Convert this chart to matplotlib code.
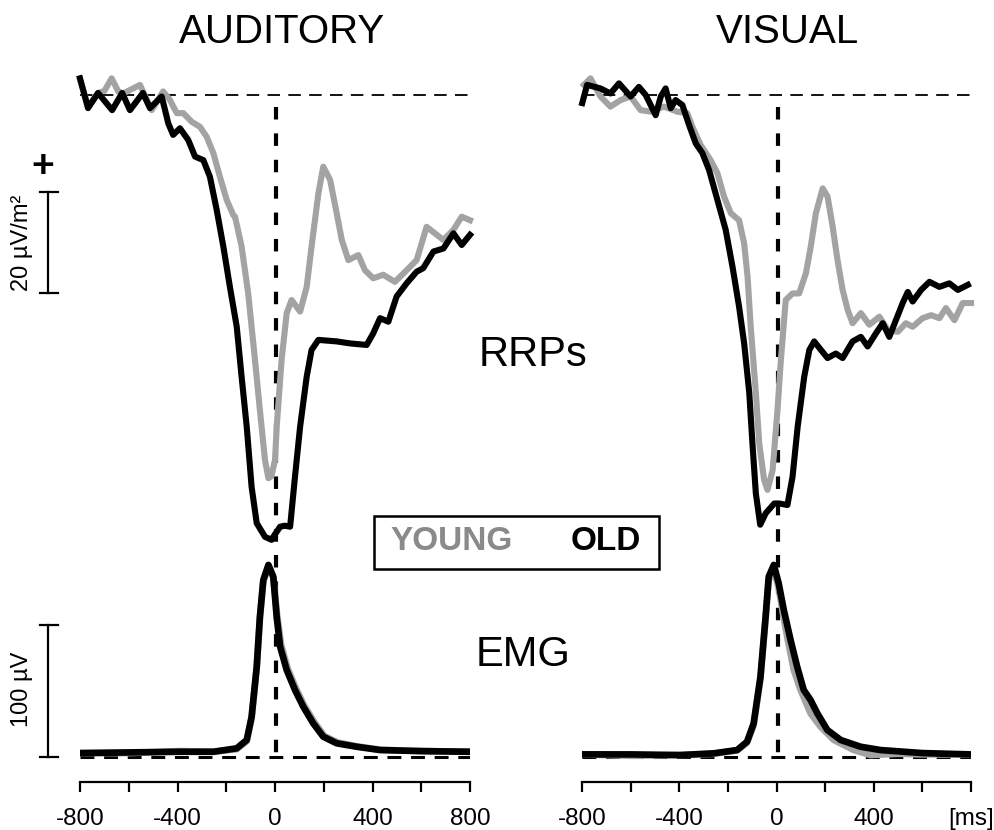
import matplotlib
matplotlib.use("Agg")
import matplotlib.pyplot as plt
from matplotlib.patches import Rectangle

plt.rcParams["font.family"] = ["Liberation Sans", "DejaVu Sans"]
plt.rcParams["lines.scale_dashes"] = False

# ---- data (ms, uV/m2 for RRPs, uV for EMG) ----
# auditory RRPs
aud_old_t = [-800, -767, -726, -668, -627, -595, -542, -513, -465, -451, -438, -418, -390, -356,
             -328, -294, -267, -239, -212, -185, -157, -137, -116, -96, -75, -41, -14, -7, 21, 40,
             62, 82, 103, 130, 150, 178, 253, 308, 376, 403, 431, 465, 499, 540, 581, 608, 650,
             691, 732, 766, 800]
aud_old_v = [3.3, -2.6, 0.4, -3.0, 0.4, -3.0, 0.4, -2.6, -0.3, -3.0, -5.6, -7.9, -6.6, -8.9,
             -12.2, -12.9, -16.2, -22.8, -30.0, -38.0, -45.9, -55.8, -65.7, -77.6, -84.8, -87.5,
             -88.1, -87.5, -85.5, -85.3, -85.5, -75.6, -65.7, -55.8, -50.5, -48.5, -48.8, -49.2,
             -49.5, -47.2, -44.2, -44.9, -39.9, -37.3, -35.0, -34.3, -31.0, -30.4, -27.4, -29.7,
             -27.7]
aud_young_t = [-800, -767, -726, -700, -670, -643, -623, -554, -506, -459, -431, -403, -376, -342,
               -308, -280, -253, -226, -198, -171, -164, -137, -110, -82, -62, -41, -27, -15, 0,
               7, 27, 48, 68, 103, 130, 150, 178, 198, 226, 253, 274, 301, 342, 369, 403, 444,
               492, 540, 581, 622, 656, 691, 732, 766, 800]
aud_young_v = [3.0, -2.3, 0.4, 0.8, 3.3, 0.7, 0.3, 2.0, -3.0, 0.7, -1.0, -3.6, -3.6, -5.3, -6.3,
               -8.3, -11.5, -16.2, -20.8, -23.8, -24.1, -30.0, -39.3, -52.5, -62.4, -72.3,
               -75.9, -75.5, -72.3, -65.7, -52.5, -43.2, -40.6, -42.9, -38.0, -30.0, -19.5,
               -14.2, -16.8, -23.4, -28.7, -32.7, -31.7, -34.7, -36.3, -35.6, -37.0, -34.7,
               -32.7, -26.1, -27.4, -28.7, -26.7, -24.1, -24.8]

# visual RRPs
vis_old_t = [-799, -779, -724, -683, -648, -600, -566, -538, -497, -476, -456, -435, -415, -387,
             -360, -332, -305, -277, -243, -209, -181, -154, -133, -112, -99, -85, -67, -44, -9,
             11, 45, 66, 87, 114, 135, 155, 183, 210, 244, 272, 313, 347, 375, 409, 437, 464,
             491, 519, 540, 560, 595, 629, 670, 711, 746, 787]
vis_old_v = [-1.6, 2.0, 1.3, 0.3, 2.3, -0.3, 1.6, 0.0, -4.0, -0.3, 1.3, -2.6, -1.0, -2.0, -5.9,
             -9.6, -11.5, -14.9, -20.8, -26.7, -34.0, -41.9, -49.2, -59.0, -69.0, -78.9, -85.1,
             -82.8, -80.9, -80.9, -81.2, -75.6, -65.7, -55.8, -50.5, -48.8, -50.5, -52.1, -51.2,
             -52.1, -48.8, -47.9, -49.8, -47.2, -45.2, -47.9, -44.6, -41.2, -39.0, -40.9, -38.6,
             -37.0, -38.0, -37.3, -38.6, -37.6]
vis_young_t = [-792, -765, -724, -683, -641, -600, -559, -518, -463, -408, -367, -346, -312,
               -271, -243, -216, -188, -154, -133, -119, -106, -85, -71, -51, -37, -16, 4, 18,
               38, 66, 93, 121, 141, 162, 190, 210, 231, 251, 272, 293, 313, 347, 382, 423, 457,
               499, 532, 560, 601, 636, 670, 697, 732, 766, 800]
vis_young_v = [2.0, 3.3, -0.3, -2.3, -1.0, -0.3, -3.0, -3.3, -2.3, -3.3, -3.6, -6.3, -9.9,
               -12.9, -15.5, -20.1, -23.4, -24.8, -29.4, -36.0, -45.9, -59.0, -69.0, -76.2,
               -78.2, -74.3, -62.4, -52.5, -40.6, -39.3, -39.3, -35.3, -30.0, -23.4, -18.5,
               -20.1, -26.1, -32.7, -38.6, -42.6, -45.2, -43.2, -45.5, -43.9, -46.5, -46.9,
               -45.2, -45.9, -44.2, -43.6, -44.2, -42.2, -44.6, -41.2, -41.2]

# auditory EMG
aud_emg_old_t = [-800, -600, -390, -253, -157, -116, -96, -75, -62, -48, -27, -7, 7, 21, 48, 82,
                 116, 157, 198, 253, 335, 431, 600, 800]
aud_emg_old_v = [3.0, 3.5, 4.0, 4.0, 6.6, 12.9, 30.5, 68.4, 106.0, 134.0, 145.5, 136.6, 106.0,
                 83.6, 65.9, 50.8, 38.1, 25.5, 15.4, 10.4, 7.8, 5.3, 4.5, 4.0]
aud_emg_young_t = [-800, -600, -390, -253, -157, -116, -96, -75, -62, -48, -27, -7, 9, 25, 52,
                   86, 120, 161, 202, 257, 339, 435, 600, 800]
aud_emg_young_v = [3.0, 3.0, 4.5, 4.0, 6.0, 12.0, 29.0, 67.0, 105.0, 133.0, 144.0, 136.0, 107.0,
                   85.0, 67.0, 52.0, 39.0, 26.5, 16.0, 11.0, 8.0, 5.5, 4.5, 4.0]

# visual EMG
vis_emg_old_t = [-800, -600, -396, -258, -162, -121, -94, -66, -45, -32, -11, 9, 30, 58, 85, 112,
                 140, 168, 209, 264, 346, 428, 600, 800]
vis_emg_old_v = [2.0, 2.0, 1.5, 2.8, 5.3, 11.6, 25.5, 60.8, 106.0, 136.6, 145.5, 131.6, 111.4,
                 88.6, 68.4, 50.8, 43.2, 33.1, 20.5, 12.9, 7.8, 5.3, 3.0, 2.0]
vis_emg_young_t = [-800, -600, -396, -258, -162, -121, -94, -66, -45, -32, -11, 9, 30, 44, 71,
                   99, 140, 181, 236, 318, 387, 500, 600, 800]
vis_emg_young_v = [2.0, 1.0, 1.5, 2.5, 5.0, 11.0, 24.0, 59.0, 104.0, 134.0, 142.0, 128.0, 105.0,
                   91.0, 65.9, 50.8, 33.1, 23.0, 12.9, 5.3, 1.5, 2.5, 2.0, 2.0]

tick_pos = [-800, -600, -400, -200, 0, 200, 400, 600, 800]
aud_tick_labels = ["-800", "", "-400", "", "0", "", "400", "", "800"]
vis_tick_labels = ["-800", "", "-400", "", "0", "", "400", "", "[ms]"]

GRAY = "#a3a3a3"
W, H = 994, 830


def px_axes(fig, left, right, top, bottom):
    return fig.add_axes([left / W, 1 - bottom / H, (right - left) / W, (bottom - top) / H])


fig = plt.figure(figsize=(W / 100, H / 100), dpi=100)

panels = [
    (80, 470, aud_young_t, aud_young_v, aud_old_t, aud_old_v,
     aud_emg_young_t, aud_emg_young_v, aud_emg_old_t, aud_emg_old_v, aud_tick_labels),
    (582, 971, vis_young_t, vis_young_v, vis_old_t, vis_old_v,
     vis_emg_young_t, vis_emg_young_v, vis_emg_old_t, vis_emg_old_v, vis_tick_labels),
]

rrp_axes = []
emg_axes = []
for (l, r, yt, yv, ot, ov, eyt, eyv, eot, eov, labels) in panels:
    # RRP part
    ax = px_axes(fig, l, r, 60, 555)
    ax.set_xlim(-800, 800)
    ax.set_ylim(-91.1, 6.93)
    ax.axis("off")
    ax.plot([-800, 800], [0, 0], color="black", lw=1.3, dashes=(9, 6), zorder=1)
    ax.plot([5, 5], [-2.4, -91.1], color="black", lw=3, dashes=(9, 10), zorder=1)
    ax.plot(yt, yv, color=GRAY, lw=4.4, solid_joinstyle="round", zorder=2, clip_on=False)
    ax.plot(ot, ov, color="black", lw=4.4, solid_joinstyle="round", zorder=3, clip_on=False)
    rrp_axes.append(ax)

    # EMG part
    ax2 = px_axes(fig, l, r, 555, 782)
    ax2.set_xlim(-800, 800)
    ax2.set_ylim(-18.9, 153.0)
    for s in ["top", "left", "right"]:
        ax2.spines[s].set_visible(False)
    ax2.spines["bottom"].set_linewidth(1.6)
    ax2.set_yticks([])
    ax2.set_xticks(tick_pos)
    ax2.set_xticklabels(labels)
    ax2.tick_params(axis="x", direction="out", length=7, width=1.6, labelsize=17.5, pad=12)
    ax2.plot([-800, 800], [0, 0], color="black", lw=2.2, dashes=(10, 7), zorder=1)
    ax2.plot([5, 5], [153.0, 0], color="black", lw=3, dashes=(9, 10), zorder=1)
    ax2.plot(eyt, eyv, color=GRAY, lw=4.8, zorder=2)
    ax2.plot(eot, eov, color="black", lw=4.8, zorder=3)
    emg_axes.append(ax2)

# scale bars (auditory panel)
ax = rrp_axes[0]
ax.plot([-931, -931], [-19.2, -39.2], color="black", lw=1.6, clip_on=False)
ax.plot([-964, -890], [-19.2, -19.2], color="black", lw=1.6, clip_on=False)
ax.plot([-964, -890], [-39.2, -39.2], color="black", lw=1.6, clip_on=False)
ax.text(-952, -14.3, "+", fontsize=28, fontweight="bold", ha="center", va="center")
ax.text(-1038, -29.2, "20 µV/m²", fontsize=17, rotation=90, ha="center", va="center")

ax2 = emg_axes[0]
ax2.plot([-931, -931], [0, 100], color="black", lw=1.6, clip_on=False)
ax2.plot([-964, -890], [0, 0], color="black", lw=1.6, clip_on=False)
ax2.plot([-964, -890], [100, 100], color="black", lw=1.6, clip_on=False)
ax2.text(-1036, 51, "100 µV", fontsize=17, rotation=90, ha="center", va="center")

# titles and labels
fig.text(282 / W, 1 - 32 / H, "AUDITORY", fontsize=29, ha="center", va="center")
fig.text(787 / W, 1 - 32 / H, "VISUAL", fontsize=29, ha="center", va="center")
fig.text(533 / W, 1 - 355 / H, "RRPs", fontsize=30, ha="center", va="center")
fig.text(523 / W, 1 - 655 / H, "EMG", fontsize=30, ha="center", va="center")

# legend box
fig.patches.append(Rectangle((374 / W, 1 - 569 / H), (659 - 374) / W, (569 - 516) / H,
                             transform=fig.transFigure, fill=False, edgecolor="black", lw=1.8))
fig.text(452 / W, 1 - 542 / H, "YOUNG", fontsize=24, fontweight="bold", color="#8a8a8a",
         ha="center", va="center")
fig.text(606 / W, 1 - 542 / H, "OLD", fontsize=24, fontweight="bold", color="black",
         ha="center", va="center")

fig.savefig("out.png", dpi=100)
